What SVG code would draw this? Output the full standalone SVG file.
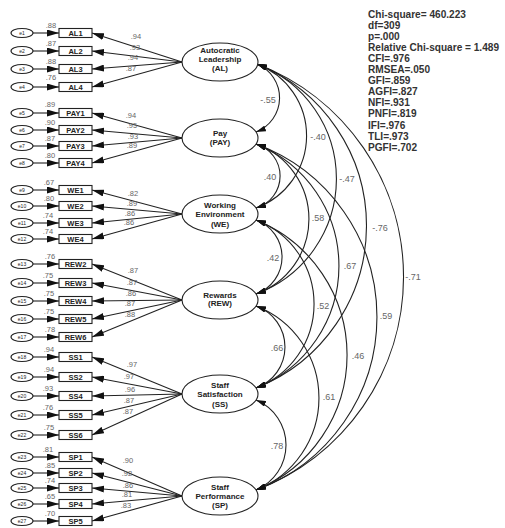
<svg xmlns="http://www.w3.org/2000/svg" width="505" height="528" viewBox="0 0 505 528">
<style>
.err{fill:#fff;stroke:#222;stroke-width:1.1}
.et{font-family:"Liberation Sans",Arial,sans-serif;font-size:5px;fill:#222;text-anchor:middle}
.box{fill:#fff;stroke:#222;stroke-width:1.1}
.bt{font-family:"Liberation Sans",Arial,sans-serif;font-size:7.5px;font-weight:bold;fill:#222;text-anchor:middle}
.lat{fill:#fff;stroke:#222;stroke-width:1.1}
.lt{font-family:"Liberation Sans",Arial,sans-serif;font-size:8px;font-weight:bold;fill:#222;text-anchor:middle}
.ln{fill:none;stroke:#222;stroke-width:1.1}
.arr{marker-end:url(#ah)}
.cov{fill:none;stroke:#222;stroke-width:1.1;marker-start:url(#as);marker-end:url(#as)}
.sm{font-family:"Liberation Sans",Arial,sans-serif;font-size:7.5px;fill:#666;text-anchor:middle}
.cl{font-family:"Liberation Sans",Arial,sans-serif;font-size:9px;fill:#666;text-anchor:middle}
.fit{font-family:"Liberation Sans",Arial,sans-serif;font-size:10.1px;font-weight:bold;fill:#333}
</style>
<defs>
<marker id="ah" markerUnits="userSpaceOnUse" markerWidth="12" markerHeight="7" refX="12" refY="3.5" orient="auto"><path d="M0,0 L12,3.5 L0,7 z" fill="#111"/></marker>
<marker id="as" markerUnits="userSpaceOnUse" markerWidth="10" markerHeight="6" refX="10" refY="3" orient="auto-start-reverse"><path d="M0,0 L10,3 L0,6 z" fill="#111"/></marker>
</defs>
<rect width="505" height="528" fill="#fff"/>

<g id="connectors">
<!-- error arrows -->
<g class="ln arr">
<path d="M33,33H59"/><path d="M33,51H59"/><path d="M33,69H59"/><path d="M33,87H59"/>
<path d="M33,113H59"/><path d="M33,130H59"/><path d="M33,146H59"/><path d="M33,163H59"/>
<path d="M33,190H59"/><path d="M33,206H59"/><path d="M33,223H59"/><path d="M33,239H59"/>
<path d="M33,264H59"/><path d="M33,283H59"/><path d="M33,301H59"/><path d="M33,319H59"/><path d="M33,337H59"/>
<path d="M33,357H59"/><path d="M33,377H59"/><path d="M33,396H59"/><path d="M33,415H59"/><path d="M33,435H59"/>
<path d="M33,457H59"/><path d="M33,473H59"/><path d="M33,488H59"/><path d="M33,504H59"/><path d="M33,521H59"/>
</g>
<!-- loadings -->
<g class="ln arr">
<path d="M182,62L92,33"/><path d="M182,62L92,51"/><path d="M182,62L92,69"/><path d="M182,62L92,87"/>
<path d="M182,138L92,113"/><path d="M182,138L92,130"/><path d="M182,138L92,146"/><path d="M182,138L92,163"/>
<path d="M182,214L92,190"/><path d="M182,214L92,206"/><path d="M182,214L92,223"/><path d="M182,214L92,239"/>
<path d="M182,300L92,264"/><path d="M182,300L92,283"/><path d="M182,300L92,301"/><path d="M182,300L92,319"/><path d="M182,300L92,337"/>
<path d="M182,394L92,357"/><path d="M182,394L92,377"/><path d="M182,394L92,396"/><path d="M182,394L92,415"/><path d="M182,394L92,435"/>
<path d="M182,496L92,457"/><path d="M182,496L92,473"/><path d="M182,496L92,488"/><path d="M182,496L92,504"/><path d="M182,496L92,521"/>
</g>
<!-- covariances -->
<path class="cov" d="M257,64 A36.6,36.6 0 0 1 256,132"/>
<path class="cov" d="M257,64 A76.8,76.8 0 0 1 256,208"/>
<path class="cov" d="M257,64 A122.7,122.7 0 0 1 256,294"/>
<path class="cov" d="M257,64 A174.3,174.3 0 0 1 256,388"/>
<path class="cov" d="M257,64 A227.8,227.8 0 0 1 256,490"/>
<path class="cov" d="M256,144 A33.3,33.3 0 0 1 256,208"/>
<path class="cov" d="M256,144 A79.6,79.6 0 0 1 256,294"/>
<path class="cov" d="M256,144 A131.2,131.2 0 0 1 256,388"/>
<path class="cov" d="M256,144 A184.2,184.2 0 0 1 256,490"/>
<path class="cov" d="M256,220 A39.3,39.3 0 0 1 256,294"/>
<path class="cov" d="M256,220 A89.8,89.8 0 0 1 256,388"/>
<path class="cov" d="M256,220 A145.6,145.6 0 0 1 256,490"/>
<path class="cov" d="M256,306 A43.5,43.5 0 0 1 256,388"/>
<path class="cov" d="M256,306 A98.7,98.7 0 0 1 256,490"/>
<path class="cov" d="M256,400 A48.75,48.75 0 0 1 256,490"/>
<!-- covariance labels -->
<g class="cl">
<text x="268" y="103">-.55</text>
<text x="318" y="140">-.40</text>
<text x="347" y="182">-.47</text>
<text x="380" y="231">-.76</text>
<text x="413" y="280">-.71</text>
<text x="270" y="180">.40</text>
<text x="318" y="221">.58</text>
<text x="350" y="269">.67</text>
<text x="386" y="319">.59</text>
<text x="273" y="261">.42</text>
<text x="323" y="309">.52</text>
<text x="358" y="359">.46</text>
<text x="277" y="351">.66</text>
<text x="329" y="400">.61</text>
<text x="277" y="449">.78</text>
</g>
<!-- loading labels -->
<g class="sm">
<text x="136" y="38.5">.94</text><text x="135" y="49.5">.93</text><text x="133" y="59.5">.94</text><text x="131" y="70.5">.87</text>
<text x="131" y="117.5">.94</text><text x="132" y="127.5">.95</text><text x="133" y="138.5">.93</text><text x="132" y="147.5">.89</text>
<text x="133" y="195.5">.82</text><text x="132" y="205.5">.89</text><text x="130" y="215.5">.86</text><text x="129" y="224.5">.86</text>
<text x="133" y="272.5">.87</text><text x="132" y="284.5">.87</text><text x="131" y="295.5">.86</text><text x="130" y="305.5">.87</text><text x="130" y="316.5">.88</text>
<text x="132" y="366.5">.97</text><text x="129" y="378.5">.97</text><text x="130" y="391.5">.96</text><text x="129" y="402.5">.87</text><text x="128" y="413.5">.87</text>
<text x="128" y="462.5">.90</text><text x="127" y="475.5">.92</text><text x="128" y="487.5">.86</text><text x="127" y="496.5">.81</text><text x="126" y="507.5">.83</text>
</g>
<!-- SMC labels -->
<g class="sm">
<text x="51" y="27.5">.88</text><text x="51" y="45.5">.87</text><text x="51" y="63.5">.88</text><text x="51" y="79.5">.76</text>
<text x="50" y="106.5">.89</text><text x="50" y="124.5">.90</text><text x="50" y="140.5">.87</text><text x="50" y="157.5">.80</text>
<text x="49" y="184.5">.67</text><text x="49" y="200.5">.80</text><text x="48" y="217.5">.74</text><text x="48" y="233.5">.74</text>
<text x="50" y="258.5">.76</text><text x="48" y="277.5">.75</text><text x="49" y="295.5">.75</text><text x="49" y="313.5">.75</text><text x="50" y="331.5">.78</text>
<text x="49" y="351.5">.94</text><text x="49" y="371.5">.94</text><text x="48" y="390.5">.93</text><text x="48" y="409.5">.76</text><text x="49" y="429.5">.75</text>
<text x="48" y="451.5">.81</text><text x="50" y="467.5">.85</text><text x="50" y="482.5">.74</text><text x="50" y="498.5">.65</text><text x="50" y="515.5">.70</text>
</g>
</g>

<!-- error terms -->
<g id="e1"><ellipse class="err" cx="22" cy="33" rx="11" ry="4.5"/><text class="et" x="22" y="34.8">e1</text></g>
<g id="e2"><ellipse class="err" cx="22" cy="51" rx="11" ry="4.5"/><text class="et" x="22" y="52.8">e2</text></g>
<g id="e3"><ellipse class="err" cx="22" cy="69" rx="11" ry="4.5"/><text class="et" x="22" y="70.8">e3</text></g>
<g id="e4"><ellipse class="err" cx="22" cy="87" rx="11" ry="4.5"/><text class="et" x="22" y="88.8">e4</text></g>
<g id="e5"><ellipse class="err" cx="22" cy="113" rx="11" ry="4.5"/><text class="et" x="22" y="114.8">e5</text></g>
<g id="e6"><ellipse class="err" cx="22" cy="130" rx="11" ry="4.5"/><text class="et" x="22" y="131.8">e6</text></g>
<g id="e7"><ellipse class="err" cx="22" cy="146" rx="11" ry="4.5"/><text class="et" x="22" y="147.8">e7</text></g>
<g id="e8"><ellipse class="err" cx="22" cy="163" rx="11" ry="4.5"/><text class="et" x="22" y="164.8">e8</text></g>
<g id="e9"><ellipse class="err" cx="22" cy="190" rx="11" ry="4.5"/><text class="et" x="22" y="191.8">e9</text></g>
<g id="e10"><ellipse class="err" cx="22" cy="206" rx="11" ry="4.5"/><text class="et" x="22" y="207.8">e10</text></g>
<g id="e11"><ellipse class="err" cx="22" cy="223" rx="11" ry="4.5"/><text class="et" x="22" y="224.8">e11</text></g>
<g id="e12"><ellipse class="err" cx="22" cy="239" rx="11" ry="4.5"/><text class="et" x="22" y="240.8">e12</text></g>
<g id="e13"><ellipse class="err" cx="22" cy="264" rx="11" ry="4.5"/><text class="et" x="22" y="265.8">e13</text></g>
<g id="e14"><ellipse class="err" cx="22" cy="283" rx="11" ry="4.5"/><text class="et" x="22" y="284.8">e14</text></g>
<g id="e15"><ellipse class="err" cx="22" cy="301" rx="11" ry="4.5"/><text class="et" x="22" y="302.8">e15</text></g>
<g id="e16"><ellipse class="err" cx="22" cy="319" rx="11" ry="4.5"/><text class="et" x="22" y="320.8">e16</text></g>
<g id="e17"><ellipse class="err" cx="22" cy="337" rx="11" ry="4.5"/><text class="et" x="22" y="338.8">e17</text></g>
<g id="e18"><ellipse class="err" cx="22" cy="357" rx="11" ry="4.5"/><text class="et" x="22" y="358.8">e18</text></g>
<g id="e19"><ellipse class="err" cx="22" cy="377" rx="11" ry="4.5"/><text class="et" x="22" y="378.8">e19</text></g>
<g id="e20"><ellipse class="err" cx="22" cy="396" rx="11" ry="4.5"/><text class="et" x="22" y="397.8">e20</text></g>
<g id="e21"><ellipse class="err" cx="22" cy="415" rx="11" ry="4.5"/><text class="et" x="22" y="416.8">e21</text></g>
<g id="e22"><ellipse class="err" cx="22" cy="435" rx="11" ry="4.5"/><text class="et" x="22" y="436.8">e22</text></g>
<g id="e23"><ellipse class="err" cx="22" cy="457" rx="11" ry="4.5"/><text class="et" x="22" y="458.8">e23</text></g>
<g id="e24"><ellipse class="err" cx="22" cy="473" rx="11" ry="4.5"/><text class="et" x="22" y="474.8">e24</text></g>
<g id="e25"><ellipse class="err" cx="22" cy="488" rx="11" ry="4.5"/><text class="et" x="22" y="489.8">e25</text></g>
<g id="e26"><ellipse class="err" cx="22" cy="504" rx="11" ry="4.5"/><text class="et" x="22" y="505.8">e26</text></g>
<g id="e27"><ellipse class="err" cx="22" cy="521" rx="11" ry="4.5"/><text class="et" x="22" y="522.8">e27</text></g>

<!-- observed variables -->
<g id="AL1"><rect class="box" x="59" y="28.5" width="33" height="9"/><text class="bt" x="75.5" y="35.7">AL1</text></g>
<g id="AL2"><rect class="box" x="59" y="46.5" width="33" height="9"/><text class="bt" x="75.5" y="53.7">AL2</text></g>
<g id="AL3"><rect class="box" x="59" y="64.5" width="33" height="9"/><text class="bt" x="75.5" y="71.7">AL3</text></g>
<g id="AL4"><rect class="box" x="59" y="82.5" width="33" height="9"/><text class="bt" x="75.5" y="89.7">AL4</text></g>
<g id="PAY1"><rect class="box" x="59" y="108.5" width="33" height="9"/><text class="bt" x="75.5" y="115.7">PAY1</text></g>
<g id="PAY2"><rect class="box" x="59" y="125.5" width="33" height="9"/><text class="bt" x="75.5" y="132.7">PAY2</text></g>
<g id="PAY3"><rect class="box" x="59" y="141.5" width="33" height="9"/><text class="bt" x="75.5" y="148.7">PAY3</text></g>
<g id="PAY4"><rect class="box" x="59" y="158.5" width="33" height="9"/><text class="bt" x="75.5" y="165.7">PAY4</text></g>
<g id="WE1"><rect class="box" x="59" y="185.5" width="33" height="9"/><text class="bt" x="75.5" y="192.7">WE1</text></g>
<g id="WE2"><rect class="box" x="59" y="201.5" width="33" height="9"/><text class="bt" x="75.5" y="208.7">WE2</text></g>
<g id="WE3"><rect class="box" x="59" y="218.5" width="33" height="9"/><text class="bt" x="75.5" y="225.7">WE3</text></g>
<g id="WE4"><rect class="box" x="59" y="234.5" width="33" height="9"/><text class="bt" x="75.5" y="241.7">WE4</text></g>
<g id="REW2"><rect class="box" x="59" y="259.5" width="33" height="9"/><text class="bt" x="75.5" y="266.7">REW2</text></g>
<g id="REW3"><rect class="box" x="59" y="278.5" width="33" height="9"/><text class="bt" x="75.5" y="285.7">REW3</text></g>
<g id="REW4"><rect class="box" x="59" y="296.5" width="33" height="9"/><text class="bt" x="75.5" y="303.7">REW4</text></g>
<g id="REW5"><rect class="box" x="59" y="314.5" width="33" height="9"/><text class="bt" x="75.5" y="321.7">REW5</text></g>
<g id="REW6"><rect class="box" x="59" y="332.5" width="33" height="9"/><text class="bt" x="75.5" y="339.7">REW6</text></g>
<g id="SS1"><rect class="box" x="59" y="352.5" width="33" height="9"/><text class="bt" x="75.5" y="359.7">SS1</text></g>
<g id="SS2"><rect class="box" x="59" y="372.5" width="33" height="9"/><text class="bt" x="75.5" y="379.7">SS2</text></g>
<g id="SS4"><rect class="box" x="59" y="391.5" width="33" height="9"/><text class="bt" x="75.5" y="398.7">SS4</text></g>
<g id="SS5"><rect class="box" x="59" y="410.5" width="33" height="9"/><text class="bt" x="75.5" y="417.7">SS5</text></g>
<g id="SS6"><rect class="box" x="59" y="430.5" width="33" height="9"/><text class="bt" x="75.5" y="437.7">SS6</text></g>
<g id="SP1"><rect class="box" x="59" y="452.5" width="33" height="9"/><text class="bt" x="75.5" y="459.7">SP1</text></g>
<g id="SP2"><rect class="box" x="59" y="468.5" width="33" height="9"/><text class="bt" x="75.5" y="475.7">SP2</text></g>
<g id="SP3"><rect class="box" x="59" y="483.5" width="33" height="9"/><text class="bt" x="75.5" y="490.7">SP3</text></g>
<g id="SP4"><rect class="box" x="59" y="499.5" width="33" height="9"/><text class="bt" x="75.5" y="506.7">SP4</text></g>
<g id="SP5"><rect class="box" x="59" y="516.5" width="33" height="9"/><text class="bt" x="75.5" y="523.7">SP5</text></g>

<!-- latent variables -->
<g id="AL"><ellipse class="lat" cx="220" cy="62" rx="38" ry="19"/><text class="lt" x="220" y="53">Autocratic</text><text class="lt" x="220" y="62">Leadership</text><text class="lt" x="220" y="71">(AL)</text></g>
<g id="PAY"><ellipse class="lat" cx="220" cy="138" rx="38" ry="19"/><text class="lt" x="220" y="136">Pay</text><text class="lt" x="220" y="145">(PAY)</text></g>
<g id="WE"><ellipse class="lat" cx="220" cy="214" rx="38" ry="19"/><text class="lt" x="220" y="208">Working</text><text class="lt" x="220" y="217">Environment</text><text class="lt" x="220" y="227">(WE)</text></g>
<g id="REW"><ellipse class="lat" cx="220" cy="300" rx="38" ry="19"/><text class="lt" x="220" y="298">Rewards</text><text class="lt" x="220" y="306">(REW)</text></g>
<g id="SS"><ellipse class="lat" cx="220" cy="394" rx="38" ry="19"/><text class="lt" x="220" y="388">Staff</text><text class="lt" x="220" y="397">Satisfaction</text><text class="lt" x="220" y="407">(SS)</text></g>
<g id="SP"><ellipse class="lat" cx="220" cy="496" rx="38" ry="19"/><text class="lt" x="220" y="490">Staff</text><text class="lt" x="220" y="499">Performance</text><text class="lt" x="220" y="508">(SP)</text></g>

<!-- fit statistics -->
<g id="fit" class="fit">
<text x="368" y="17.5">Chi-square= 460.223</text>
<text x="368" y="28.6">df=309</text>
<text x="368" y="39.7">p=.000</text>
<text x="368" y="50.8">Relative Chi-square = 1.489</text>
<text x="368" y="61.9">CFI=.976</text>
<text x="368" y="73">RMSEA=.050</text>
<text x="368" y="84.1">GFI=.859</text>
<text x="368" y="95.2">AGFI=.827</text>
<text x="368" y="106.3">NFI=.931</text>
<text x="368" y="117.4">PNFI=.819</text>
<text x="368" y="128.5">IFI=.976</text>
<text x="368" y="139.6">TLI=.973</text>
<text x="368" y="150.7">PGFI=.702</text>
</g>
</svg>
